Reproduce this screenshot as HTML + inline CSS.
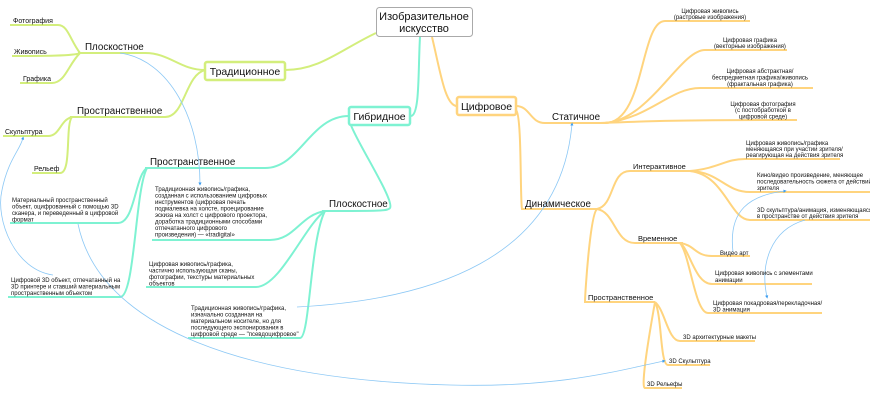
<!DOCTYPE html>
<html><head><meta charset="utf-8"><style>
html,body{margin:0;padding:0;background:#fff;width:870px;height:400px;overflow:hidden}
svg{display:block}
text{font-family:"Liberation Sans","DejaVu Sans",sans-serif;fill:#111}
.b{font-size:11px}
.m{font-size:9.8px}
.s{font-size:6px}
.k{font-size:7px}
.g{stroke:#d3ee7c;fill:none;stroke-width:2}
.t{stroke:#7ef2d2;fill:none;stroke-width:2}
.o{stroke:#ffd47e;fill:none;stroke-width:2}
.l{stroke:#8cc8f5;fill:none;stroke-width:0.8}
</style></head><body>
<svg width="870" height="400" viewBox="0 0 870 400" xmlns="http://www.w3.org/2000/svg">
<defs><marker id="a" viewBox="0 0 6 6" refX="3" refY="3" markerWidth="4" markerHeight="4" orient="auto"><path d="M0,0L6,3L0,6z" fill="#3a9cf0"/></marker></defs>

<!-- green -->
<path class="g" d="M376,33 C340,50 320,70 285,70"/>
<path class="g" d="M205,70 C180,70 170,53 145,53 L78,53"/>
<path class="g" d="M80,53 C70,40 68,25 58,25 L10,25"/>
<path class="g" d="M80,53 C75,56 40,56 12,56"/>
<path class="g" d="M80,53 C68,65 65,83 52,83 L20,83"/>
<path class="g" d="M205,70 C185,75 185,117 165,117 L70,117"/>
<path class="g" d="M72,117 C60,120 60,136 48,136 L3,136"/>
<path class="g" d="M72,117 C65,125 72,173 60,173 L32,173"/>

<!-- teal -->
<path class="t" d="M420,37 C418,70 420,115 411,116"/>
<path class="t" d="M349,116 C310,116 300,168 265,168 L145,168"/>
<path class="t" d="M349,120 C355,140 395,200 390,208 C388,211 380,211 322,211"/>
<path class="t" d="M147,168 C135,175 135,223 118,223 L10,223"/>
<path class="t" d="M147,168 C135,190 135,297 120,297 L8,297"/>
<path class="t" d="M325,211 C300,215 295,240 270,240 L152,240"/>
<path class="t" d="M325,211 C305,225 280,287 256,287 L146,287"/>
<path class="t" d="M325,211 C310,240 310,338 300,338 L188,338"/>

<!-- orange -->
<path class="o" d="M432,37 C440,70 445,106 457,106"/>
<path class="o" d="M516,106 C530,106 530,123 545,123 L605,123"/>
<path class="o" d="M516,110 C522,115 520,200 522,209 L597,209"/>
<path class="o" d="M605,123 C645,123 640,21 665,21 L750,21"/>
<path class="o" d="M605,123 C650,120 680,50 705,50 L787,50"/>
<path class="o" d="M605,123 C650,118 670,88 700,88 L813,88"/>
<path class="o" d="M600,123 C650,121 680,120 797,120"/>
<path class="o" d="M597,209 C615,205 610,171 630,171 L690,171"/>
<path class="o" d="M690,171 C720,168 725,159 745,159 L840,159"/>
<path class="o" d="M690,171 C720,172 725,192 750,192 L870,192"/>
<path class="o" d="M690,171 C725,175 730,220 750,220 L870,220"/>
<path class="o" d="M597,209 C615,212 615,243 635,243 L683,243"/>
<path class="o" d="M680,243 C695,245 695,256 712,256 L750,256"/>
<path class="o" d="M680,243 C690,250 695,284 712,284 L812,284"/>
<path class="o" d="M680,243 C690,255 695,313 708,313 L822,313"/>
<path class="o" d="M597,209 C590,215 585,295 585,302 L655,302"/>
<path class="o" d="M655,302 C665,310 668,341 680,341 L755,341"/>
<path class="o" d="M655,302 C662,315 660,365 668,365 L710,365"/>
<path class="o" d="M655,302 C650,330 640,388 645,388 L682,388"/>

<!-- blue links -->
<path class="l" d="M120,53 C170,60 200,120 200,184" marker-end="url(#a)"/>
<path class="l" d="M53,275 C15,270 -5,220 2,190 C8,160 20,150 23,138" marker-end="url(#a)"/>
<path class="l" d="M78,224 C100,330 250,380 450,385 C560,388 620,370 664,361" marker-end="url(#a)"/>
<path class="l" d="M297,307 C430,300 560,260 572,124" marker-end="url(#a)"/>
<path class="l" d="M733,252 C728,210 750,195 785,191" marker-end="url(#a)"/>
<path class="l" d="M805,220 C770,230 760,265 767,297" marker-end="url(#a)"/>

<!-- boxes -->
<rect x="376.5" y="7.5" width="96" height="29" rx="3" fill="#fff" stroke="#aaa" stroke-width="1"/>
<text class="b" x="424" y="20" text-anchor="middle">Изобразительное</text>
<text class="b" x="424" y="32" text-anchor="middle">искусство</text>
<rect x="205" y="62" width="80" height="18" rx="2" fill="#fff" stroke="#d3ee7c" stroke-width="2.5"/>
<text class="b" x="245" y="75" text-anchor="middle" style="font-size:10.5px">Традиционное</text>
<rect x="349" y="107" width="61" height="18" rx="2" fill="#fff" stroke="#7ef2d2" stroke-width="2.5"/>
<text class="b" x="379.5" y="120" text-anchor="middle" style="font-size:10.5px">Гибридное</text>
<rect x="457" y="97" width="59" height="18" rx="2" fill="#fff" stroke="#ffd47e" stroke-width="2.5"/>
<text class="b" x="486.5" y="110" text-anchor="middle" style="font-size:10.5px">Цифровое</text>

<!-- green labels -->
<text class="m" x="85" y="50">Плоскостное</text>
<text class="k" x="13" y="23">Фотография</text>
<text class="k" x="14" y="54">Живопись</text>
<text class="k" x="23" y="81">Графика</text>
<text class="m" x="77" y="114">Пространственное</text>
<text class="k" x="5" y="134">Скульптура</text>
<text class="k" x="34" y="171">Рельеф</text>

<!-- teal labels -->
<text class="m" x="150" y="165">Пространственное</text>
<text class="m" x="329" y="207">Плоскостное</text>
<text class="s" x="12" y="202">Материальный пространственный</text>
<text class="s" x="12" y="208.5">объект, оцифрованный с помощью 3D</text>
<text class="s" x="12" y="215">сканера, и переведенный в цифровой</text>
<text class="s" x="12" y="221.5">формат</text>
<text class="s" x="11" y="282">Цифровой 3D объект, отпечатанный на</text>
<text class="s" x="11" y="288.5">3D принтере и ставший материальным</text>
<text class="s" x="11" y="295">пространственным объектом</text>
<text class="s" x="155" y="191">Традиционная живопись/графика,</text>
<text class="s" x="155" y="197.5">созданная с использованием цифровых</text>
<text class="s" x="155" y="204">инструментов (цифровая печать</text>
<text class="s" x="155" y="210.5">подмалевка на холсте, проецирование</text>
<text class="s" x="155" y="217">эскиза на холст с цифрового проектора,</text>
<text class="s" x="155" y="223.5">доработка традиционными способами</text>
<text class="s" x="155" y="230">отпечатанного цифрового</text>
<text class="s" x="155" y="236.5">произведения) — «tradigital»</text>
<text class="s" x="149" y="266">Цифровая живопись/графика,</text>
<text class="s" x="149" y="272.5">частично использующая сканы,</text>
<text class="s" x="149" y="279">фотографии, текстуры материальных</text>
<text class="s" x="149" y="285.5">объектов</text>
<text class="s" x="191" y="310">Традиционная живопись/графика,</text>
<text class="s" x="191" y="316.5">изначально созданная на</text>
<text class="s" x="191" y="323">материальном носителе, но для</text>
<text class="s" x="191" y="329.5">последующего экспонирования в</text>
<text class="s" x="191" y="336">цифровой среде — "псевдоцифровое"</text>

<!-- orange labels -->
<text class="m" x="552" y="120">Статичное</text>
<text class="m" x="525" y="207">Динамическое</text>
<text class="s" x="633" y="169" style="font-size:7.5px">Интерактивное</text>
<text class="s" x="638" y="241" style="font-size:7.5px">Временное</text>
<text class="s" x="588" y="300" style="font-size:7.5px">Пространственное</text>
<g text-anchor="middle">
<text class="s" x="710" y="13">Цифровая живопись</text>
<text class="s" x="710" y="19">(растровые изображения)</text>
<text class="s" x="750" y="42">Цифровая графика</text>
<text class="s" x="750" y="48">(векторные изображения)</text>
<text class="s" x="760" y="73">Цифровая абстрактная/</text>
<text class="s" x="760" y="79.5">беспредметная графика/живопись</text>
<text class="s" x="760" y="86">(фрактальная графика)</text>
<text class="s" x="763" y="106">Цифровая фотография</text>
<text class="s" x="763" y="112">(с постобработкой в</text>
<text class="s" x="763" y="118.5">цифровой среде)</text>
</g>
<text class="s" x="746" y="145">Цифровая живопись/графика</text>
<text class="s" x="746" y="151">меняющаяся при участии зрителя/</text>
<text class="s" x="746" y="157">реагирующая на действия зрителя</text>
<text class="s" x="757" y="177">Кино/видео произведение, меняющее</text>
<text class="s" x="757" y="183.5">последовательность сюжета от действий</text>
<text class="s" x="757" y="190">зрителя</text>
<text class="s" x="757" y="212">3D скульптура/анимация, изменяющаяся</text>
<text class="s" x="757" y="218">в пространстве от действия зрителя</text>
<text class="s" x="720" y="255">Видео арт</text>
<text class="s" x="715" y="275">Цифровая живопись с элементами</text>
<text class="s" x="715" y="282">анимации</text>
<text class="s" x="713" y="305">Цифровая покадровая/перекладочная/</text>
<text class="s" x="713" y="311.5">3D анимация</text>
<text class="s" x="683" y="339">3D архитектурные макеты</text>
<text class="s" x="669" y="363">3D Скульптура</text>
<text class="s" x="647" y="386">3D Рельефы</text>
</svg>
</body></html>
